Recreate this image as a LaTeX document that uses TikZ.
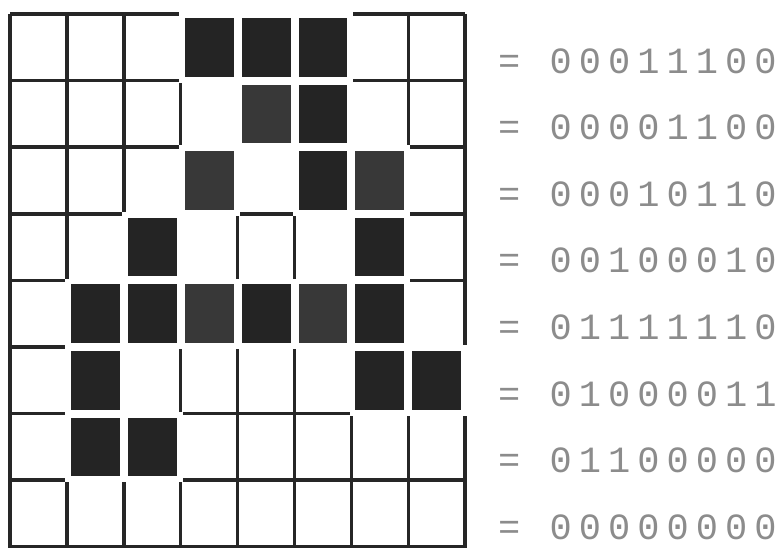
\documentclass[tikz,border=0pt]{standalone}
\usepackage{fontspec}
\newfontfamily\bitfont[LetterSpace=19]{Liberation Mono}
\definecolor{inkA}{HTML}{242424}
\definecolor{inkB}{HTML}{383838}
\definecolor{gridink}{HTML}{262626}
\definecolor{bitink}{HTML}{8C8C8C}
\tikzset{
  gridline/.style={draw=gridink, line width=3.5pt},
  cellgap/.style={fill=white},
  cellsharp/.style={fill=inkA},
  cellsoft/.style={fill=inkB},
  bits/.style={anchor=base west, inner sep=0pt, text=bitink, font=\bitfont\fontsize{37}{37}\selectfont}
}
\begin{document}
\begin{tikzpicture}[x=1pt,y=-1pt]
\useasboundingbox (0,0) rectangle (775,547);
\fill[white] (0,0) rectangle (775,547);
% grid
\foreach \i in {0,...,8} {
  \draw[gridline] ({10+\i*56.9},14) -- ({10+\i*56.9},549);
  \draw[gridline] (10,{14+\i*66.6}) -- (465.2,{14+\i*66.6});
}
% filled cells: (column,row)
\foreach \c/\r/\s in {4/1/cellsharp,5/1/cellsharp,6/1/cellsharp,
                     5/2/cellsoft,6/2/cellsharp,
                     4/3/cellsoft,6/3/cellsharp,7/3/cellsoft,
                     3/4/cellsharp,7/4/cellsharp,
                     2/5/cellsharp,3/5/cellsharp,4/5/cellsoft,5/5/cellsharp,6/5/cellsoft,7/5/cellsharp,
                     2/6/cellsharp,7/6/cellsharp,8/6/cellsharp,
                     2/7/cellsharp,3/7/cellsharp} {
  \fill[cellgap] ({10+(\c-1)*56.9-1.9},{14+(\r-1)*66.6-1.9}) rectangle ({10+\c*56.9+1.9},{14+\r*66.6+1.9});
  \fill[\s] ({10+(\c-1)*56.9+4},{14+(\r-1)*66.6+4}) rectangle ({10+\c*56.9-4},{14+\r*66.6-4});
}
% row codes
\node[bits] (r1) at (498,73.0) {= 00011100};
\node[bits] (r2) at (498,139.6) {= 00001100};
\node[bits] (r3) at (498,206.2) {= 00010110};
\node[bits] (r4) at (498,272.8) {= 00100010};
\node[bits] (r5) at (498,339.4) {= 01111110};
\node[bits] (r6) at (498,406.0) {= 01000011};
\node[bits] (r7) at (498,472.6) {= 01100000};
\node[bits] (r8) at (498,539.2) {= 00000000};
\end{tikzpicture}
\end{document}
